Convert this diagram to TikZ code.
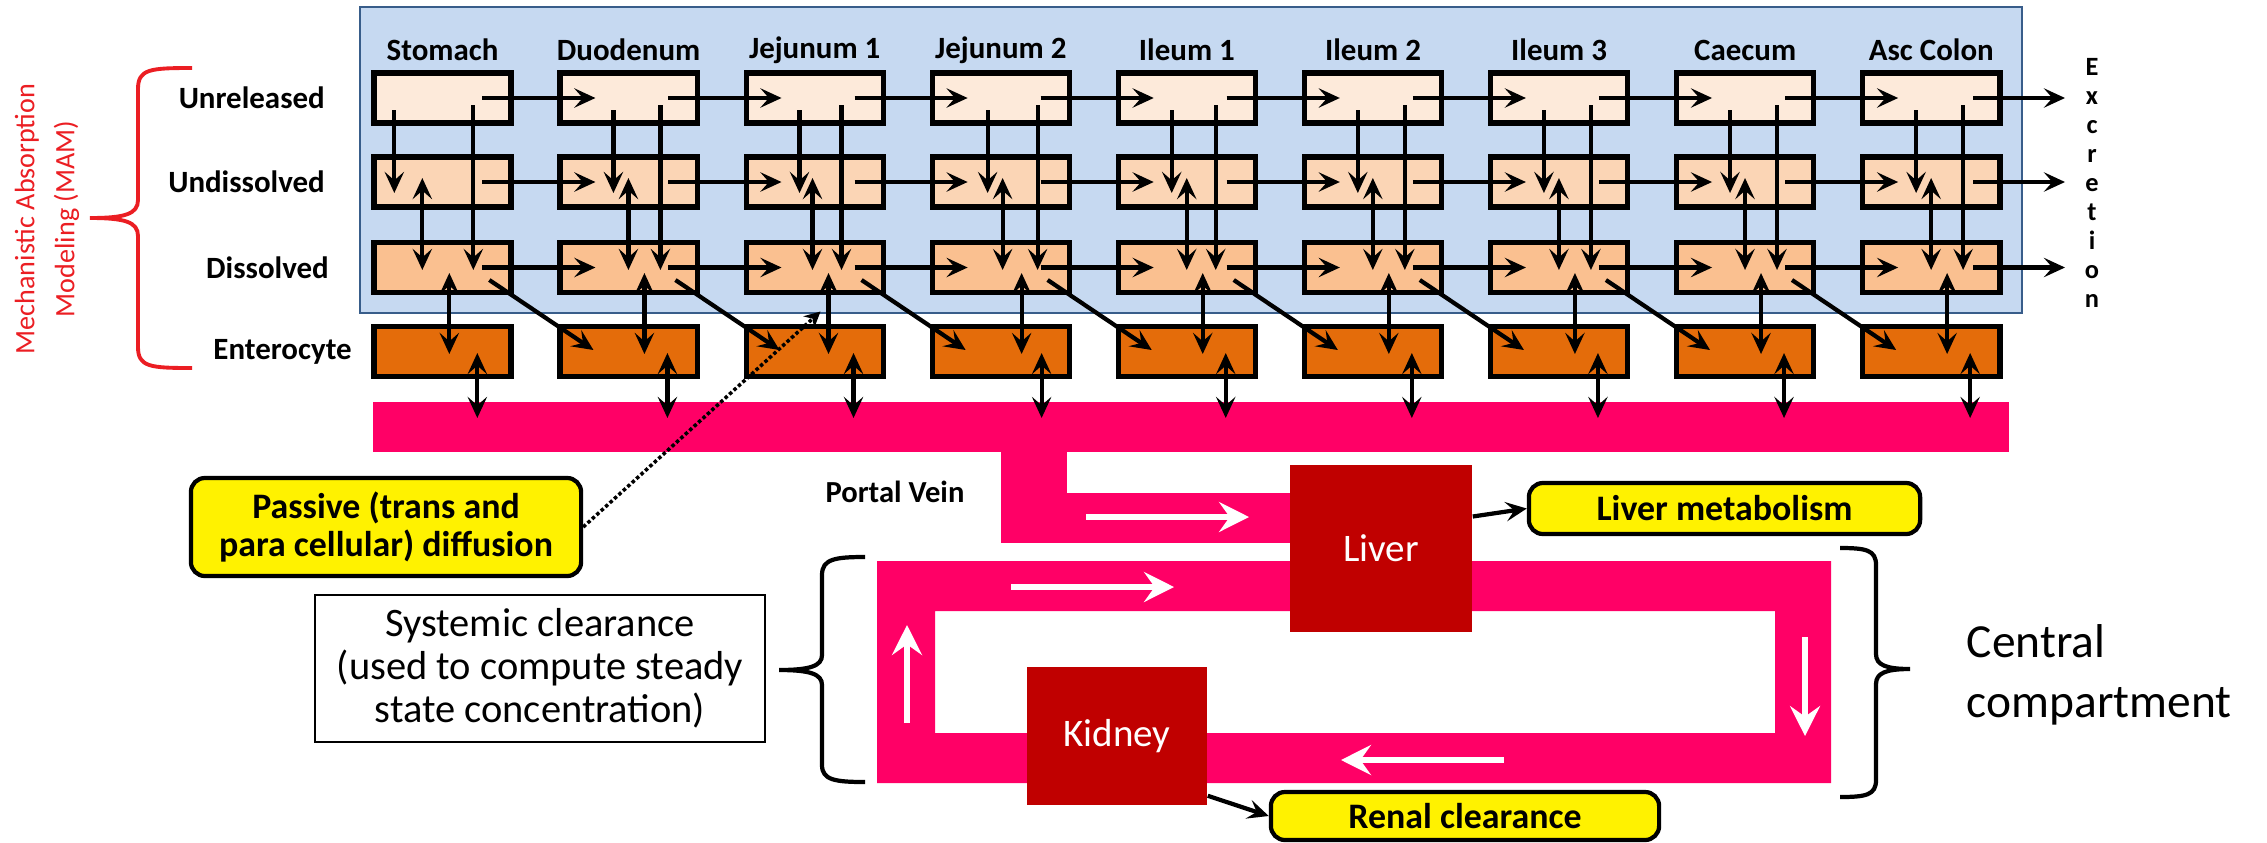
\documentclass[tikz,border=0pt]{standalone}
\usepackage{fontspec}
\setmainfont{Carlito}
\usepackage{xcolor}
\usepackage{tikz}
\usetikzlibrary{arrows.meta}
\definecolor{bgblue}{RGB}{198,217,241}
\definecolor{edgeblue}{RGB}{56,93,138}
\definecolor{unrel}{RGB}{253,234,218}
\definecolor{undis}{RGB}{251,213,181}
\definecolor{dis}{RGB}{250,192,144}
\definecolor{entero}{RGB}{228,108,10}
\definecolor{vein}{RGB}{255,0,102}
\definecolor{organ}{RGB}{192,0,0}
\definecolor{mamred}{RGB}{235,30,35}
\tikzset{
    seg/.style={rectangle,draw=black,line width=1.5pt,minimum width=1.37cm,minimum height=0.5cm,inner sep=0pt},
    lbl/.style={inner sep=1pt,font=\fontsize{8.8}{10}\selectfont\bfseries},
    arr/.style={-{Stealth[length=6pt,width=5.5pt,inset=2.4pt]},line width=1.2pt},
    darr/.style={{Stealth[length=6pt,width=5.5pt,inset=2.4pt]}-{Stealth[length=6pt,width=5.5pt,inset=2.4pt]},line width=1.2pt},
    warr/.style={-{Stealth[length=8.5pt,width=8.5pt,inset=3pt]},draw=white,line width=1.5pt},
    dotarr/.style={-{Stealth[length=4.5pt,width=4.5pt]},line width=1pt,dash pattern=on 1pt off 0.7pt},
    organbox/.style={rectangle,fill=organ,text=white,inner sep=0pt,font=\fontsize{11.1}{13}\selectfont},
    note/.style={rectangle,draw=black,line width=1.2pt,fill=yellow,rounded corners=4pt,inner sep=0pt,align=center,font=\fontsize{10.2}{10.8}\selectfont\bfseries},
    brace/.style={line width=1.2pt},
}
\begin{document}
\begin{tikzpicture}[x=0.01cm,y=-0.01cm]
\useasboundingbox (0,0) rectangle (2267,842);
\fill[bgblue,draw=edgeblue,line width=0.6pt] (360,7) rectangle (2022,313);
\foreach \name [count=\i] in {Stomach,Duodenum,Jejunum 1,Jejunum 2,Ileum 1,Ileum 2,Ileum 3,Caecum,Asc Colon} {
  \pgfmathsetmacro\cx{442.5+186.1*(\i-1)}
  \node[lbl] (h\i) at (\cx,50) {\name};
  \node[seg,fill=unrel] (ur\i) at (\cx,98) {};
  \node[seg,fill=undis] (ud\i) at (\cx,182) {};
  \node[seg,fill=dis] (ds\i) at (\cx,267.5) {};
  \node[seg,fill=entero] (en\i) at (\cx,351.5) {};
}
\node[lbl,anchor=east] (lur) at (329,98) {Unreleased};
\node[lbl,anchor=east] (lud) at (329,182) {Undissolved};
\node[lbl,anchor=east] (lds) at (333,267.5) {Dissolved};
\node[lbl,anchor=east] (len) at (356,351.5) {Enterocyte};
\node[rotate=90,align=center,text=mamred,font=\fontsize{8}{11.4}\selectfont] (mam) at (47,219) {Mechanistic Absorption\\Modeling (MAM)};
\draw[mamred,line width=1.1pt] (192,68) .. controls (150,68) and (138,69) .. (138,89) -- (138,200) .. controls (138,214) and (125,218) .. (90,218) .. controls (125,218) and (138,222) .. (138,236) -- (138,347) .. controls (138,367) and (150,368) .. (192,368);
\node[font=\fontsize{7.5}{8.25}\selectfont\bfseries,align=center] (exc) at (2092,183) {E\\x\\c\\r\\e\\t\\i\\o\\n};
\coordinate (xur) at (2065,98);
\coordinate (xud) at (2065,182);
\coordinate (xds) at (2065,267.5);
\node[fill=vein,minimum width=16.35cm,minimum height=0.5cm,inner sep=0pt] (pv) at (1190.5,427) {};
\fill[vein] (1001,452) rectangle (1067,543);
\fill[vein] (1001,493) rectangle (1290,543);
\node[lbl,font=\fontsize{8.7}{10}\selectfont\bfseries] (pvl) at (895,492) {Portal Vein};
\fill[vein,even odd rule] (877,561) rectangle (1831,783) (935,611) rectangle (1775,733);
\node[organbox,minimum width=1.82cm,minimum height=1.67cm] (liver) at (1381,548.5) {Liver};
\node[organbox,minimum width=1.80cm,minimum height=1.38cm] (kidney) at (1117,736) {Kidney};
\node[note,minimum width=3.91cm,minimum height=0.51cm] (lm) at (1724.5,508.5) {Liver metabolism};
\node[note,minimum width=3.88cm,minimum height=0.48cm] (rc) at (1465,816) {Renal clearance};
\node[note,minimum width=3.90cm,minimum height=0.98cm] (pd) at (386,527) {Passive (trans and\\para cellular) diffusion};
\node[draw,line width=0.6pt,minimum width=4.5cm,minimum height=1.47cm,inner sep=0pt,align=center,font=\fontsize{11.5}{12.2}\selectfont] (sc) at (540,668.5) {Systemic clearance\\(used to compute steady\\state concentration)};
\node[anchor=west,align=left,inner sep=0pt,font=\fontsize{13.5}{17}\selectfont] (cc) at (1966,675) {Central\\compartment};
\draw[brace] (865,557) .. controls (835,557) and (822,559) .. (822,575) -- (822,655) .. controls (822,666) and (810,670) .. (779,670) .. controls (810,670) and (822,674) .. (822,685) -- (822,765) .. controls (822,780) and (835,782) .. (865,782);
\draw[brace] (1840,548) .. controls (1866,548) and (1876,550) .. (1876,565) -- (1876,654) .. controls (1876,665) and (1886,669) .. (1910,669) .. controls (1886,669) and (1876,673) .. (1876,684) -- (1876,780) .. controls (1876,795) and (1866,797) .. (1840,797);
\foreach \i/\xa/\xb/\xc/\xd/\xe in {1/23/102/51/78/106,2/56/103/71/87/110,3/56/98/69/85/110,4/58/108/73/92/112,5/56/100/71/87/110,6/56/103/71/87/110,7/56/103/71/87/110,8/56/103/71/87/110,9/56/103/71/87/110} {
  \draw[arr] ([shift={(\xa,12)}]ur\i.west) -- ([shift={(\xa,11)}]ud\i.west);
  \draw[arr] ([shift={(\xb,7)}]ur\i.west) -- ([shift={(\xb,2.5)}]ds\i.west);
  \draw[darr] ([shift={(\xc,-4)}]ud\i.west) -- ([shift={(\xc,2.5)}]ds\i.west);
  \draw[darr] ([shift={(\xd,5.5)}]ds\i.west) -- ([shift={(\xd,2.5)}]en\i.west);
  \draw[darr] ([shift={(\xe,1.5)}]en\i.west) -- ([shift={(\xe,66.5)}]en\i.west);
}
\foreach \i in {1,...,8} {
  \pgfmathtruncatemacro\j{\i+1}
  \foreach \r in {ur,ud,ds}
    \draw[arr] ([shift={(111,0)}]\r\i.west) -- ([shift={(38,0)}]\r\j.west);
  \draw[arr] ([shift={(118,12.5)}]ds\i.west) -- ([shift={(36,-1.5)}]en\j.west);
}
\foreach \r in {ur,ud,ds}
  \draw[arr] ([shift={(113,0)}]\r9.west) -- (x\r);
\draw[dotarr] (pd.east) -- ([shift={(77,44)}]ds3.west);
\draw[arr] ([shift={(0,-32)}]liver.east) -- (lm.west);
\draw[arr] ([shift={(0,-10)}]kidney.south east) -- (rc.west);
\draw[warr] (1086,517) -- (1249,517);
\draw[warr] (1011,587) -- (1174,587);
\draw[warr] (1805,637) -- (1805,736);
\draw[warr] (1504,760) -- (1341,760);
\draw[warr] (907,723) -- (907,625);
\end{tikzpicture}
\end{document}
